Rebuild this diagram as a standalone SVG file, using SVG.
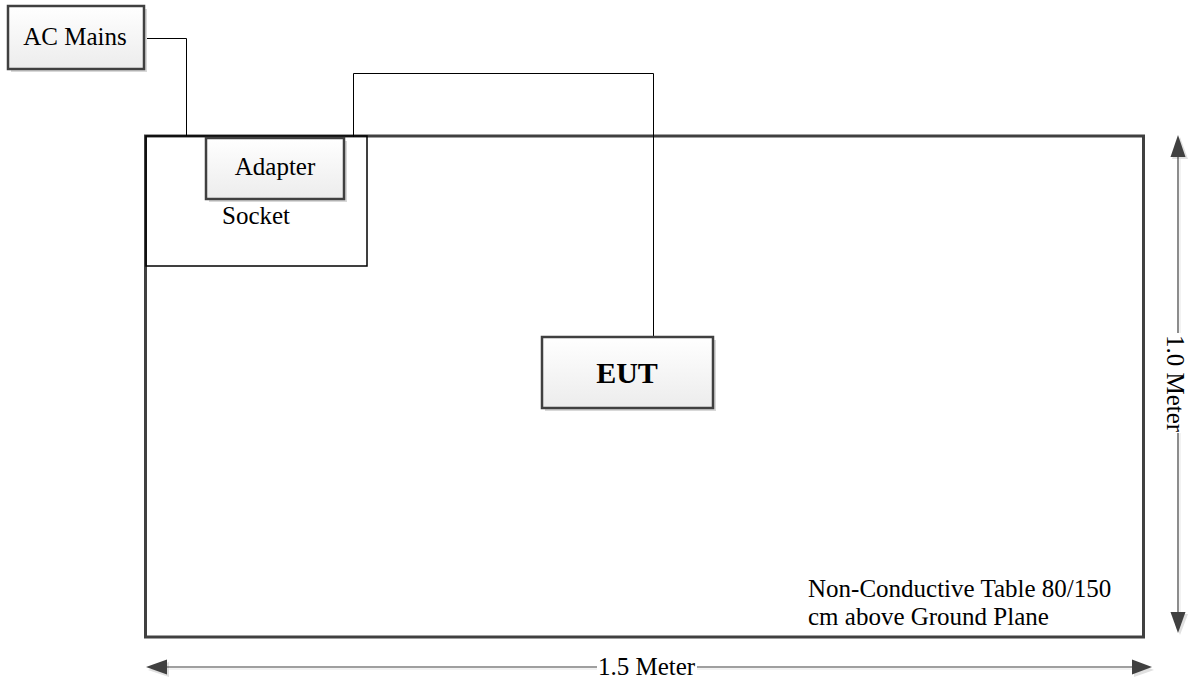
<svg xmlns="http://www.w3.org/2000/svg" width="1189" height="681" viewBox="0 0 1189 681">
<defs>
<linearGradient id="g" x1="0" y1="0" x2="0" y2="1">
<stop offset="0" stop-color="#ffffff"/>
<stop offset="1" stop-color="#ececec"/>
</linearGradient>
</defs>
<style>
.box{fill:url(#g);stroke:#404040;stroke-width:2.5}
.sh{fill:#d8d8d8}
.t{font-family:"Liberation Serif","Times New Roman",serif;font-size:25px;fill:#000}
.b{font-weight:bold;font-size:30px}
.w{fill:none;stroke:#000;stroke-width:1}
.ah{fill:#404040}
.ahs{fill:#e0e0e0}
.dim{stroke:#404040;stroke-width:1.2;fill:none}
</style>
<rect width="1189" height="681" fill="#fff"/>
<g id="table">
<rect x="145.5" y="136" width="998" height="501" fill="none" stroke="#404040" stroke-width="3"/>
<text class="t" x="808" y="597">Non-Conductive Table 80/150</text>
<text class="t" x="808" y="625">cm above Ground Plane</text>
</g>
<g id="socket">
<rect x="146" y="136" width="221" height="130" fill="none" stroke="#000" stroke-width="1.5"/>
<text class="t" x="222" y="224">Socket</text>
</g>
<g id="connectors">
<polyline class="w" points="144,38.5 186.5,38.5 186.5,136"/>
<polyline class="w" points="353.5,137 353.5,73.5 653.5,73.5 653.5,337"/>
</g>
<g id="ac-mains">
<rect class="sh" x="11" y="9" width="136" height="63"/>
<rect class="box" x="8" y="6" width="136" height="63"/>
<text class="t" x="75" y="45" text-anchor="middle">AC Mains</text>
</g>
<g id="adapter">
<rect class="sh" x="209" y="141" width="138" height="61"/>
<rect class="box" x="206" y="138" width="138" height="61"/>
<text class="t" x="275" y="175" text-anchor="middle">Adapter</text>
</g>
<g id="eut">
<rect class="sh" x="545" y="340" width="171" height="71"/>
<rect class="box" x="542" y="337" width="171" height="71"/>
<text class="t b" x="627" y="383" text-anchor="middle">EUT</text>
</g>
<g id="dimension-vertical">
<line x1="1180" y1="156" x2="1180" y2="333" stroke="#e6e6e6" stroke-width="1"/>
<line x1="1180" y1="433" x2="1180" y2="614" stroke="#e6e6e6" stroke-width="1"/>
<polygon class="ahs" points="1180,137 1188,159 1172,159"/>
<polygon class="ahs" points="1180,635 1188,614 1172,614"/>
<line class="dim" x1="1178" y1="156" x2="1178" y2="333"/>
<line class="dim" x1="1178" y1="433" x2="1178" y2="614"/>
<polygon class="ah" points="1178,135 1185.5,157 1170.5,157"/>
<polygon class="ah" points="1178,633 1185.5,612 1170.5,612"/>
<text class="t" transform="translate(1167,335) rotate(90)">1.0 Meter</text>
</g>
<g id="dimension-horizontal">
<line x1="166" y1="669" x2="597" y2="669" stroke="#e6e6e6" stroke-width="1"/>
<line x1="697" y1="669" x2="1132" y2="669" stroke="#e6e6e6" stroke-width="1"/>
<polygon class="ahs" points="148,670 169,662 169,677"/>
<polygon class="ahs" points="1154,670 1134,662 1134,677"/>
<line class="dim" x1="166" y1="667" x2="597" y2="667"/>
<line class="dim" x1="697" y1="667" x2="1133" y2="667"/>
<polygon class="ah" points="146,667 167,659.5 167,674.5"/>
<polygon class="ah" points="1152,667 1132,659.5 1132,674.5"/>
<text class="t" x="598" y="675">1.5 Meter</text>
</g>
</svg>
